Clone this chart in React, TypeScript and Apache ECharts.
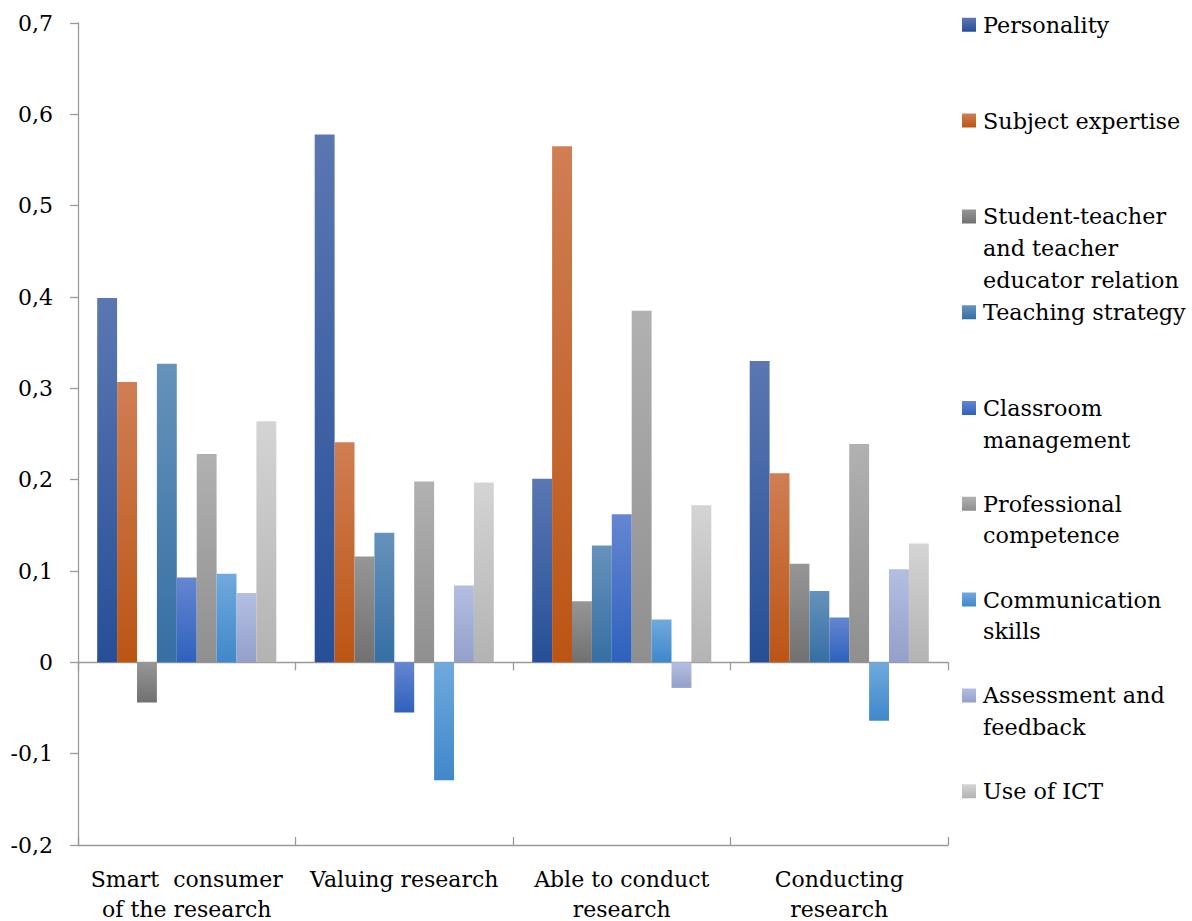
import React, { useEffect, useRef } from "react";
import * as echarts from "echarts";

// ---------- data ----------
const categories = [
  "Smart  consumer\nof the research",
  "Valuing research",
  "Able to conduct\nresearch",
  "Conducting\nresearch",
];

const seriesNames = [
  "Personality",
  "Subject expertise",
  "Student-teacher and teacher educator relation",
  "Teaching strategy",
  "Classroom management",
  "Professional competence",
  "Communication skills",
  "Assessment and feedback",
  "Use of ICT",
];

const legendLabels = [
  "Personality",
  "Subject expertise",
  "Student-teacher\nand teacher\neducator relation",
  "Teaching strategy",
  "Classroom\nmanagement",
  "Professional\ncompetence",
  "Communication\nskills",
  "Assessment and\nfeedback",
  "Use of ICT",
];

const personality = [0.399, 0.578, 0.201, 0.33];
const subjectExpertise = [0.307, 0.241, 0.565, 0.207];
const studentTeacher = [-0.044, 0.116, 0.067, 0.108];
const teachingStrategy = [0.327, 0.142, 0.128, 0.078];
const classroomManagement = [0.093, -0.055, 0.162, 0.049];
const professionalCompetence = [0.228, 0.198, 0.385, 0.239];
const communicationSkills = [0.097, -0.129, 0.047, -0.064];
const assessmentFeedback = [0.076, 0.084, -0.028, 0.102];
const useOfICT = [0.264, 0.197, 0.172, 0.13];

const seriesValues = [
  personality,
  subjectExpertise,
  studentTeacher,
  teachingStrategy,
  classroomManagement,
  professionalCompetence,
  communicationSkills,
  assessmentFeedback,
  useOfICT,
];

const yMin = -0.2;
const yMax = 0.7;
const yStep = 0.1;

// ---------- styles ----------
const topColors = [
  "#5b77b2",
  "#d07e54",
  "#969696",
  "#6692bb",
  "#6586d1",
  "#b1b1b1",
  "#70a9dd",
  "#b3bfe1",
  "#d4d4d4",
];
const bottomColors = [
  "#264f97",
  "#bb5514",
  "#717171",
  "#366fa4",
  "#2e61bd",
  "#8f8f8f",
  "#3f88ca",
  "#949fcb",
  "#b3b3b3",
];

const FONT = "DejaVu Serif";
const TEXT_COLOR = "#000";
const AXIS_COLOR = "#9a9a9a";

export default function App() {
  const ref = useRef<HTMLDivElement>(null);

  useEffect(() => {
    if (!ref.current) return;
    const chart = echarts.init(ref.current, undefined, { renderer: "svg" });

    const lineH = 31.7;
    const sq = 14;
    const legends = seriesNames.map((name, i) => {
      const lines = legendLabels[i].split("\n").length;
      const H = lines * lineH;
      const a = (lineH - sq) / 2;
      const icon = `path://M0,0L0.01,0M0,${a}L${sq},${a}L${sq},${a + sq}L0,${a + sq}ZM${sq - 0.01},${H}L${sq},${H}`;
      return {
        data: [
          {
            name,
            icon,
            itemStyle: {
              color: new echarts.graphic.LinearGradient(0, 0, 0, 1, [
                { offset: a / H, color: topColors[i] },
                { offset: (a + sq) / H, color: bottomColors[i] },
              ]),
              borderWidth: 0,
            },
          },
        ],
        orient: "vertical",
        left: 962,
        top: 24.8 + 95.8 * i - lineH / 2,
        padding: 0,
        itemWidth: sq,
        itemHeight: H,
        itemGap: 0,
        selectedMode: false,
        formatter: () => legendLabels[i],
        textStyle: {
          fontFamily: FONT,
          fontSize: 22.3,
          color: TEXT_COLOR,
          lineHeight: lineH,
          padding: [0, 0, 0, 2],
        },
      };
    });

    const baseXAxis = {
      type: "category",
      data: categories,
      position: "bottom",
      splitLine: { show: false },
    };

    chart.setOption({
      animation: false,
      backgroundColor: "#fff",
      grid: {
        left: 78,
        right: 244,
        top: 23,
        bottom: 76,
        containLabel: false,
        outerBoundsMode: "none",
      },
      legend: legends,
      xAxis: [
        {
          ...baseXAxis,
          axisLine: { show: false, onZero: false },
          axisTick: { show: false },
          axisLabel: {
            show: true,
            interval: 0,
            margin: 19.5,
            fontFamily: FONT,
            fontSize: 22,
            color: TEXT_COLOR,
            lineHeight: 30,
          },
        },
        {
          ...baseXAxis,
          axisLine: { show: true, onZero: true, lineStyle: { color: AXIS_COLOR, width: 1.3 } },
          axisTick: { show: true, length: 8, lineStyle: { color: AXIS_COLOR, width: 1.3 } },
          axisLabel: { show: false },
        },
        {
          ...baseXAxis,
          axisLine: { show: true, onZero: true, lineStyle: { color: AXIS_COLOR, width: 1.3 } },
          axisTick: { show: true, inside: true, length: 8, lineStyle: { color: AXIS_COLOR, width: 1.3 } },
          axisLabel: { show: false },
        },
      ],
      yAxis: {
        type: "value",
        min: yMin,
        max: yMax,
        interval: yStep,
        splitLine: { show: false },
        axisLine: { show: true, onZero: false, lineStyle: { color: AXIS_COLOR, width: 1.3 } },
        axisTick: { show: true, length: 8, lineStyle: { color: AXIS_COLOR, width: 1.3 } },
        axisLabel: {
          margin: 25,
          fontFamily: FONT,
          fontSize: 22,
          color: TEXT_COLOR,
          formatter: (v: number) => {
            const r = Math.round(v * 10) / 10;
            if (r === 0) return "0";
            return r.toFixed(1).replace(".", ",");
          },
        },
      },
      series: seriesNames.map((name, i) => ({
        name,
        type: "bar",
        xAxisIndex: 0,
        data: seriesValues[i],
        barWidth: 19.9,
        barGap: "0%",
        itemStyle: {
          color: new echarts.graphic.LinearGradient(0, 0, 0, 1, [
            { offset: 0, color: topColors[i] },
            { offset: 1, color: bottomColors[i] },
          ]),
          borderWidth: 0,
        },
      })),
    });

    return () => chart.dispose();
  }, []);

  return (
    <div
      ref={ref}
      style={{ position: "absolute", left: 0, top: 0, width: 1192, height: 921 }}
    />
  );
}
